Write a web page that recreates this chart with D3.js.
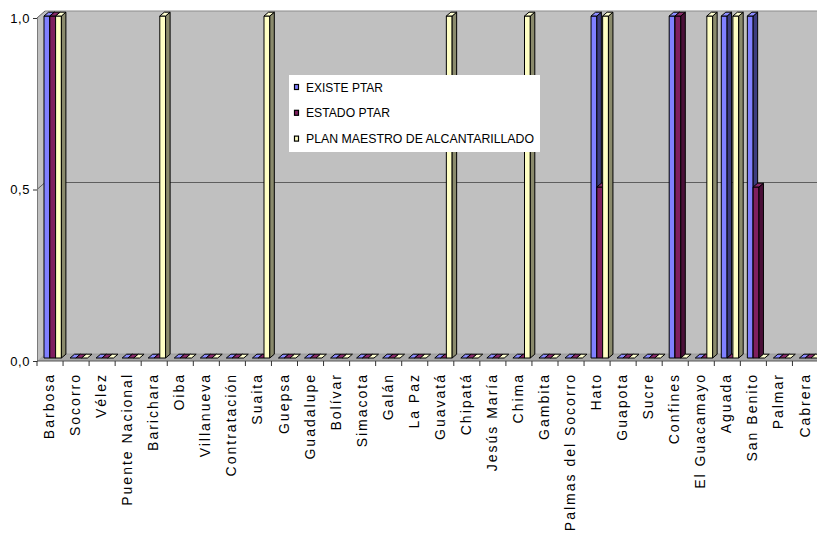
<!DOCTYPE html>
<html>
<head>
<meta charset="utf-8">
<script src="https://cdn.jsdelivr.net/npm/d3@7"></script>
<style>
  html, body { margin: 0; padding: 0; background: #ffffff; }
  svg { display: block; }
  text { font-family: "Liberation Sans", Arial, sans-serif; fill: #000; }
</style>
</head>
<body>
<script>
// Municipios and the three indicators (1 = sí, 0,5 = parcial, 0 = no)
const categories = ["Barbosa", "Socorro", "Vélez", "Puente Nacional", "Barichara", "Oiba",
  "Villanueva", "Contratación", "Suaita", "Guepsa", "Guadalupe", "Bolívar", "Simacota",
  "Galán", "La Paz", "Guavatá", "Chipatá", "Jesús María", "Chima", "Gambita",
  "Palmas del Socorro", "Hato", "Guapota", "Sucre", "Confines", "El Guacamayo",
  "Aguada", "San Benito", "Palmar", "Cabrera"];

const seriesNames = ["EXISTE PTAR", "ESTADO PTAR", "PLAN MAESTRO DE ALCANTARILLADO"];

const existePtar = [1, 0, 0, 0, 0, 0, 0, 0, 0, 0, 0, 0, 0, 0, 0, 0, 0, 0, 0, 0, 0, 1, 0, 0, 1, 0, 1, 1, 0, 0];
const estadoPtar = [1, 0, 0, 0, 0, 0, 0, 0, 0, 0, 0, 0, 0, 0, 0, 0, 0, 0, 0, 0, 0, 0.5, 0, 0, 1, 0, 0, 0.5, 0, 0];
const planMaestro = [1, 0, 0, 0, 1, 0, 0, 0, 1, 0, 0, 0, 0, 0, 0, 1, 0, 0, 1, 0, 0, 1, 0, 0, 0, 1, 1, 0, 0, 0];

const yTickValues = [0, 0.5, 1];
const yTickLabels = ["0,0", "0,5", "1,0"];

const seriesValues = [existePtar, estadoPtar, planMaestro];
const colors = [
  { front: "#8080ff", side: "#3c3c80", top: "#8c8cff" },
  { front: "#7f1f5f", side: "#4a0f38", top: "#8a2a6a" },
  { front: "#ffffc4", side: "#8a8a6c", top: "#ffffd0" }
];

const W = 817, H = 538;
const svg = d3.select("body").append("svg").attr("width", W).attr("height", H);

// Geometry of the 3-D box
const axisX = 37;
const bandW = 26.05;
const wall = { dx: 8, dy: -7 };          // back wall offset from the front plane
const barDepth = { dx: 4.5, dy: -3.8 };   // depth of each column

const x = d3.scaleBand().domain(categories)
  .range([axisX, axisX + bandW * categories.length]).paddingInner(0).paddingOuter(0);
const xs = d3.scaleBand().domain(seriesNames).range([7, 7 + 5.8 * 3]).padding(0);

const yFront = d3.scaleLinear().domain([0, 1]).range([361, 18]);   // front axis plane
const yBar = d3.scaleLinear().domain([0, 1]).range([358, 16]);     // plane of column faces

const right = W + 5;

// Walls and floor
const gWall = svg.append("g");
gWall.append("polygon")
  .attr("points", [[axisX, yFront(1)], [axisX + wall.dx, yFront(1) + wall.dy],
    [right, yFront(1) + wall.dy], [right, yFront(0)], [axisX, yFront(0)]].join(" "))
  .attr("fill", "#c0c0c0");
gWall.append("polygon")
  .attr("points", [[axisX, yFront(0)], [axisX + wall.dx, yFront(0) + wall.dy],
    [right, yFront(0) + wall.dy], [right, yFront(0)]].join(" "))
  .attr("fill", "#a9a9a9");

// Top edge and gridline on the back wall, with their side-wall diagonals
[1, 0.5].forEach(v => {
  const col = v === 1 ? "#8c8c8c" : "#5e5e5e";
  gWall.append("line")
    .attr("x1", axisX + wall.dx).attr("x2", right)
    .attr("y1", yFront(v) + wall.dy).attr("y2", yFront(v) + wall.dy)
    .attr("stroke", col).attr("stroke-width", 1.2);
  gWall.append("line")
    .attr("x1", axisX).attr("y1", yFront(v))
    .attr("x2", axisX + wall.dx).attr("y2", yFront(v) + wall.dy)
    .attr("stroke", "#5e5e5e").attr("stroke-width", 1);
});
gWall.append("line")
  .attr("x1", axisX + wall.dx).attr("y1", yFront(0) + wall.dy)
  .attr("x2", right).attr("y2", yFront(0) + wall.dy)
  .attr("stroke", "#9a9a9a").attr("stroke-width", 0.8);

// Columns, drawn left to right so each face hides the side of its neighbour
const gBars = svg.append("g").attr("stroke", "#000").attr("stroke-width", 1).attr("stroke-linejoin", "round");
const y0 = yBar(0);
categories.forEach((cat, i) => {
  seriesNames.forEach((s, j) => {
    const v = seriesValues[j][i];
    const bx = x(cat) + xs(s);
    const bw = xs.bandwidth();
    const yv = yBar(v);
    const c = colors[j];
    const g = gBars.append("g");
    if (v > 0) {
      g.append("rect").attr("x", bx).attr("y", yv).attr("width", bw).attr("height", y0 - yv)
        .attr("fill", c.front);
      g.append("polygon")
        .attr("points", [[bx + bw, y0], [bx + bw + barDepth.dx, y0 + barDepth.dy],
          [bx + bw + barDepth.dx, yv + barDepth.dy], [bx + bw, yv]].join(" "))
        .attr("fill", c.side);
    }
    g.append("polygon")
      .attr("points", [[bx, yv], [bx + barDepth.dx, yv + barDepth.dy],
        [bx + bw + barDepth.dx, yv + barDepth.dy], [bx + bw, yv]].join(" "))
      .attr("fill", c.top);
  });
});

// Value axis
const yAxis = d3.axisLeft(yFront).tickValues(yTickValues)
  .tickFormat((d, i) => yTickLabels[i]).tickSize(4).tickPadding(3);
const gY = svg.append("g").attr("transform", `translate(${axisX},0)`).call(yAxis);
gY.select(".domain").attr("stroke", "#7a7a7a");
gY.selectAll(".tick line").attr("stroke", "#333");
gY.selectAll(".tick text").style("font-size", "13px").style("letter-spacing", "0.6px")
  .attr("fill", "#101030");

// Category axis: baseline, ticks on band edges, rotated labels
const gX = svg.append("g");
gX.append("line").attr("x1", axisX).attr("x2", right)
  .attr("y1", yFront(0)).attr("y2", yFront(0)).attr("stroke", "#555");
const edges = categories.map(c => x(c)).concat([x.range()[1]]);
gX.selectAll("line.tk").data(edges).join("line").attr("class", "tk")
  .attr("x1", d => d).attr("x2", d => d)
  .attr("y1", yFront(0)).attr("y2", yFront(0) + 5)
  .attr("stroke", "#333");
gX.selectAll("text").data(categories).join("text")
  .attr("transform", d => `translate(${x(d) + x.bandwidth() / 2 - 1},373) rotate(-90)`)
  .attr("text-anchor", "end")
  .attr("dy", "0.36em")
  .style("font-size", "14px")
  .style("letter-spacing", "2px")
  .text(d => d);

// Legend
const legend = svg.append("g").attr("transform", "translate(289,75)");
legend.append("rect").attr("width", 251).attr("height", 77).attr("fill", "#fff");
const legendWidths = [77, 84, 228];
seriesNames.forEach((s, j) => {
  const cy = 12 + j * 25.8;
  legend.append("rect").attr("x", 5.5).attr("y", cy - 2.5).attr("width", 4).attr("height", 5)
    .attr("fill", colors[j].front).attr("stroke", "#000").attr("stroke-width", 1.2);
  legend.append("text").attr("x", 17).attr("y", cy).attr("dy", "0.36em")
    .style("font-size", "13px")
    .attr("textLength", legendWidths[j]).attr("lengthAdjust", "spacingAndGlyphs")
    .text(s);
});
</script>
</body>
</html>
